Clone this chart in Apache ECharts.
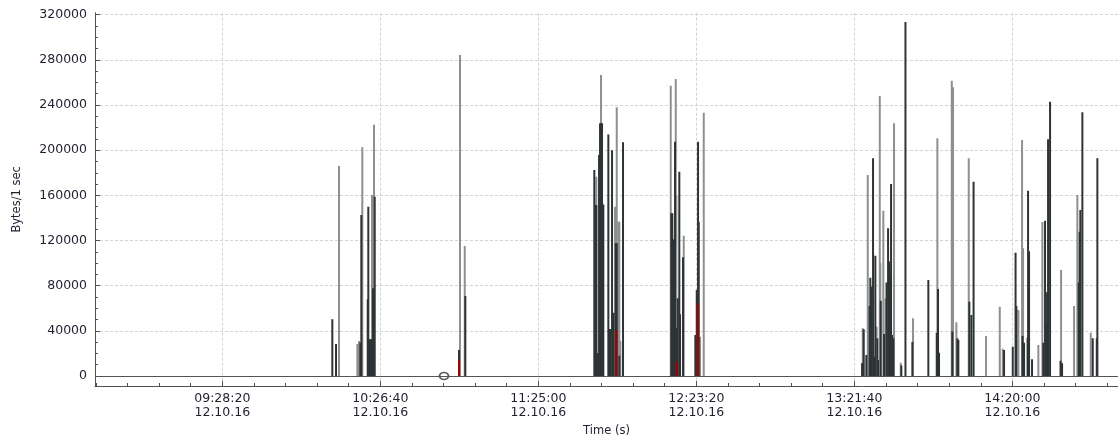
<!DOCTYPE html>
<html>
<head>
<meta charset="utf-8">
<script src="https://cdn.jsdelivr.net/npm/echarts@6/dist/echarts.min.js"></script>
<style>
  html, body { margin: 0; padding: 0; background: #ffffff; }
  #chart { width: 1118px; height: 441px; }
</style>
</head>
<body>
<div id="chart"></div>
<script>
// Capture clock: x values are seconds since the capture start.
const captureStart = '08:41:20';
const captureDate = '12.10.16';
const captureLength = 22660;

// Labelled time ticks (time of day) and the number of minor steps between them.
const timeTickLabels = ['09:28:20', '10:26:40', '11:25:00', '12:23:20', '13:21:40', '14:20:00'];
const minorStepsPerTimeTick = 5;

// Byte axis ticks and its visible range (a small band below zero like the IO graph).
const byteTicks = [0, 40000, 80000, 120000, 160000, 200000, 240000, 280000, 320000];
const byteMinorStep = 10000;
const byteRange = [-8860, 321770];

// Bytes per 1 s interval: [seconds since capture start, bytes].
const graphLight = [
  [5405, 186000], [5811, 28300], [5848, 31000], [5921, 202500], [6136, 160300], [6180, 222600],
  [8085, 284300], [8190, 115100],
  [11105, 176500], [11209, 266600], [11519, 150000], [11557, 238000], [11592, 136700], [11614, 136700], [11636, 31000],
  [12753, 257100], [12864, 263000], [12877, 159400], [13041, 124300], [13402, 34800], [13484, 233200],
  [17006, 42200], [17117, 178000], [17312, 43700], [17383, 248000], [17396, 99800], [17462, 146400], [17511, 68800],
  [17699, 223800], [17848, 11800], [18120, 51100], [18659, 210500], [18978, 261500], [19006, 255700], [19080, 47500],
  [19354, 192800],
  [19737, 35400], [20041, 61400], [20107, 24200], [20453, 58500], [20535, 209000], [20557, 113100], [20896, 27500],
  [20985, 136400], [21399, 93900], [21687, 62000], [21760, 160300], [22057, 38400]
];

const graphDark = [
  [5257, 50200], [5339, 28300], [5877, 29500], [5899, 142600], [6041, 67900], [6054, 150000], [6076, 32500],
  [6098, 32500], [6121, 32500], [6158, 77700], [6196, 158800],
  [8063, 23000], [8203, 70900],
  [11060, 182500], [11083, 151500], [11105, 151500], [11142, 20300], [11165, 195700], [11187, 223800], [11209, 223800],
  [11231, 223800], [11260, 152000], [11371, 214000], [11393, 41600], [11415, 41600], [11453, 200000], [11486, 56100],
  [11535, 117500], [11557, 117500], [11614, 18000], [11696, 207000],
  [12766, 144100], [12788, 144100], [12810, 121000], [12833, 121000], [12848, 207500], [12892, 42200], [12908, 68800],
  [12943, 181000], [12959, 54600], [13025, 105100], [13298, 36300], [13329, 76200], [13358, 207500], [13373, 136700],
  [16991, 11200], [17028, 41500], [17086, 18600], [17157, 62000], [17174, 87100], [17197, 79100], [17234, 192800],
  [17263, 17100], [17285, 106600], [17330, 33400], [17345, 14200], [17405, 66700], [17478, 37200], [17533, 82700],
  [17567, 130800], [17589, 101300], [17617, 88000], [17633, 170100], [17655, 36300], [17684, 33400], [17861, 9400],
  [17952, 313600], [18105, 30000], [18459, 85000], [18645, 38400], [18674, 77000], [18696, 20600], [18991, 39300],
  [19102, 33400], [19124, 31900], [19367, 65800], [19412, 54000], [19461, 172100],
  [20136, 23000], [20329, 26000], [20391, 109200], [20409, 62000], [20546, 35400], [20579, 29500], [20657, 33900],
  [20668, 164100], [20690, 110400], [20756, 14800], [21007, 29500], [21044, 137600], [21073, 44900], [21089, 74100],
  [21111, 209600], [21155, 243000], [21387, 13600], [21421, 11200], [21791, 82700], [21809, 127800], [21826, 147000],
  [21871, 233500], [22101, 33400], [22190, 33400], [22203, 192800]
];

const tcpErrors = [[8063, 14200], [11548, 40700], [12886, 12700], [13358, 64400]];

// Position of the graph tracer marker.
const tracer = [[7731, 0]];

const toSeconds = (clock) => {
  const [h, m, s] = clock.split(':').map(Number);
  return h * 3600 + m * 60 + s;
};
const pad2 = (n) => String(n).padStart(2, '0');
const toClock = (secs) => {
  const t = Math.round(secs);
  return pad2(Math.floor(t / 3600)) + ':' + pad2(Math.floor((t % 3600) / 60)) + ':' + pad2(t % 60);
};

const startSec = toSeconds(captureStart);
const majorTimeTicks = timeTickLabels.map((l) => toSeconds(l) - startSec);
const minorTimeStep = (majorTimeTicks[1] - majorTimeTicks[0]) / minorStepsPerTimeTick;
const minorTimeTicks = [];
{
  let t = majorTimeTicks[0];
  while (t - minorTimeStep >= 0) t -= minorTimeStep;
  for (; t <= captureLength; t += minorTimeStep) minorTimeTicks.push(t);
}
const minorByteTicks = [];
for (let v = byteTicks[0]; v <= byteTicks[byteTicks.length - 1]; v += byteMinorStep) minorByteTicks.push(v);

const IMPULSE_WIDTH = 2;
function renderImpulse(params, api) {
  const base = api.coord([api.value(0), 0]);
  const top = api.coord([api.value(0), api.value(1)]);
  return {
    type: 'rect',
    shape: { x: top[0] - IMPULSE_WIDTH / 2, y: top[1], width: IMPULSE_WIDTH, height: base[1] - top[1] },
    style: api.style()
  };
}

const textColor = '#1f2030';
const axisColor = '#505050';
const gridLine = { show: true, lineStyle: { color: '#d2d2d2', type: [3, 2], width: 1 } };
const font = 'DejaVu Sans';

const chart = echarts.init(document.getElementById('chart'), null, { renderer: 'canvas' });
chart.setOption({
  backgroundColor: '#ffffff',
  animation: false,
  grid: { left: 95, right: 0, top: 12.7, bottom: 55, containLabel: false, outerBoundsMode: 'none' },
  xAxis: [
    {
      type: 'value', min: 0, max: captureLength, position: 'bottom',
      name: 'Time (s)', nameLocation: 'middle', nameGap: 38,
      nameTextStyle: { color: textColor, fontFamily: font, fontSize: 11.5 },
      axisLine: { show: true, onZero: false, lineStyle: { color: axisColor, width: 1 } },
      axisTick: { show: true, inside: true, length: 5, customValues: majorTimeTicks, lineStyle: { color: axisColor } },
      axisLabel: {
        show: true, customValues: majorTimeTicks, margin: 5,
        color: textColor, fontFamily: font, fontSize: 12.5, lineHeight: 14.5,
        formatter: (v) => toClock(startSec + v) + '\n' + captureDate
      },
      splitLine: gridLine
    },
    {
      type: 'value', min: 0, max: captureLength, position: 'bottom',
      axisLine: { show: false, onZero: false },
      axisTick: { show: true, inside: true, length: 3, customValues: minorTimeTicks, lineStyle: { color: axisColor } },
      axisLabel: { show: false },
      splitLine: { show: false }
    }
  ],
  yAxis: [
    {
      type: 'value', min: byteRange[0], max: byteRange[1], position: 'left',
      name: 'Bytes/1 sec', nameLocation: 'middle', nameGap: 72,
      nameTextStyle: { color: textColor, fontFamily: font, fontSize: 11.5 },
      axisLine: { show: true, onZero: false, lineStyle: { color: axisColor, width: 1 } },
      axisTick: { show: true, inside: true, length: 5, customValues: byteTicks, lineStyle: { color: axisColor } },
      axisLabel: {
        show: true, customValues: byteTicks, margin: 8,
        color: textColor, fontFamily: font, fontSize: 12.5,
        formatter: (v) => String(v)
      },
      splitLine: gridLine
    },
    {
      type: 'value', min: byteRange[0], max: byteRange[1], position: 'left',
      axisLine: { show: false, onZero: false },
      axisTick: { show: true, inside: true, length: 3, customValues: minorByteTicks, lineStyle: { color: axisColor } },
      axisLabel: { show: false },
      splitLine: { show: false }
    }
  ],
  series: [
    {
      name: 'graphLight', type: 'custom', xAxisIndex: 0, yAxisIndex: 0, clip: true,
      renderItem: renderImpulse, encode: { x: 0, y: 1 },
      itemStyle: { color: '#8f8f8f' }, data: graphLight
    },
    {
      name: 'graphDark', type: 'custom', xAxisIndex: 0, yAxisIndex: 0, clip: true,
      renderItem: renderImpulse, encode: { x: 0, y: 1 },
      itemStyle: { color: '#2e3436' }, data: graphDark,
      markLine: {
        silent: true, symbol: ['none', 'none'], label: { show: false },
        lineStyle: { color: '#555555', type: 'solid', width: 1 },
        data: [{ yAxis: 0 }]
      }
    },
    {
      name: 'tcpErrors', type: 'custom', xAxisIndex: 0, yAxisIndex: 0, clip: true,
      renderItem: renderImpulse, encode: { x: 0, y: 1 },
      itemStyle: { color: '#a40000' }, data: tcpErrors
    },
    {
      name: 'tracer', type: 'scatter', xAxisIndex: 0, yAxisIndex: 0,
      symbol: 'circle', symbolSize: [9, 7],
      itemStyle: { color: '#ffffff', borderColor: '#333333', borderWidth: 1.6 },
      data: tracer
    }
  ]
});
</script>
</body>
</html>
